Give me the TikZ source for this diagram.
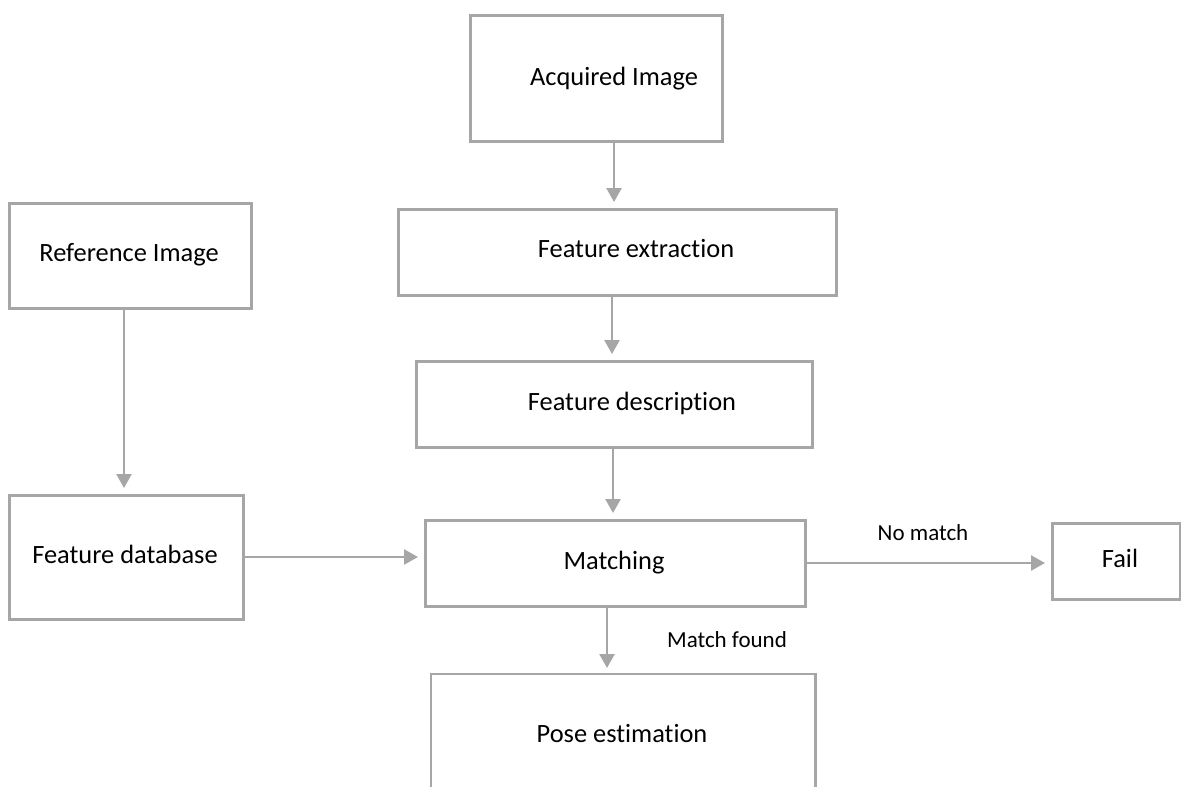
\documentclass[tikz,border=0pt]{standalone}
\usepackage{fontspec}
\setmainfont[Ligatures={CommonOff}]{Carlito}
\usetikzlibrary{arrows.meta}
\definecolor{linegray}{HTML}{A6A6A6}
\tikzset{
  box/.style={draw=linegray, line width=2.6pt, fill=none, inner sep=0pt, anchor=north west},
  txt/.style={inner sep=0pt, anchor=base, font=\fontsize{26.4pt}{30pt}\selectfont, text=black},
  lbl/.style={inner sep=0pt, anchor=base, font=\fontsize{23pt}{27pt}\selectfont, text=black},
  conn/.style={draw=linegray, line width=2.6pt, -{Triangle[width=15pt,length=14pt]}, shorten >=6pt},
}
\begin{document}
\begin{tikzpicture}[x=1pt,y=-1pt]
\useasboundingbox (0,0) rectangle (1181,787);
% boxes (top-left corners, sizes)
\node[box, minimum width=252pt, minimum height=126pt] (acq) at (469,14) {};
\node[box, minimum width=438pt, minimum height=86pt] (ext) at (397,208) {};
\node[box, minimum width=396pt, minimum height=86pt] (des) at (415,360) {};
\node[box, minimum width=380pt, minimum height=86pt] (mat) at (424,519) {};
\node[box, minimum width=242pt, minimum height=105pt] (ref) at (8,202) {};
\node[box, minimum width=234pt, minimum height=124pt] (db) at (8,494) {};
\node[box, minimum width=128pt, minimum height=76pt] (fail) at (1051,522) {};
\node[inner sep=0pt, minimum width=384pt, minimum height=120pt, anchor=north west] (pose) at (431,674) {};
\draw[linegray, line width=2.6pt] (pose.south west) -- (pose.north west) -- (pose.north east) -- (pose.south east);
% texts
\node[txt] (tacq) at (614,85) {Acquired Image};
\node[txt] (text) at (636,257) {Feature extraction};
\node[txt] (tdes) at (632,410) {Feature description};
\node[txt] (tmat) at (614,569) {Matching};
\node[txt] (tref) at (129,261) {Reference Image};
\node[txt] (tdb) at (125,563) {Feature database};
\node[txt] (tfail) at (1120,567) {Fail};
\node[txt] (tpose) at (622,742) {Pose estimation};
\node[lbl] (lno) at (923,540) {No match};
\node[lbl] (lfound) at (727,647) {Match found};
% connectors
\draw[conn] (acq.south -| 614,0) -- (ext.north -| 614,0);
\draw[conn] (ext.south -| 612,0) -- (des.north -| 612,0);
\draw[conn] (des.south -| 613,0) -- (mat.north -| 613,0);
\draw[conn] (mat.south -| 607,0) -- (pose.north -| 607,0);
\draw[conn] (ref.south -| 124,0) -- (db.north -| 124,0);
\draw[conn] (db.east |- 0,557) -- (mat.west |- 0,557);
\draw[conn] (mat.east |- 0,563) -- (fail.west |- 0,563);
\end{tikzpicture}
\end{document}
